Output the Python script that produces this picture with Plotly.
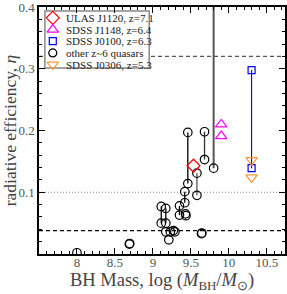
import plotly.graph_objects as go

# ---- data ----
ulas_x = [9.535]; ulas_y = [0.143]
j1148_x = [9.9, 9.9]; j1148_y = [0.210, 0.191]
j0100_x = [10.3, 10.3]; j0100_y = [0.298, 0.139]
j0306_x = [10.3, 10.3]; j0306_y = [0.152, 0.124]

# paired quasars (two estimates joined by a line)
pair_x = [9.46, 9.68, 9.58, 9.42, 9.35, 9.11, 9.17]
pair_hi = [0.197, 0.198, 0.131, 0.101, 0.078, 0.077, 0.074]
pair_lo = [0.114, 0.153, 0.095, 0.083, 0.063, 0.050, 0.050]
pair_col = ["black", "#333333", "#555555", "black", "black", "black", "black"]

# lower limit quasar (line to top)
lim_x = [9.8]; lim_y = [0.139]; lim_top = 0.4

single_x = [9.43, 9.435, 9.17, 9.21, 9.23, 9.27, 9.29, 9.64, 9.645, 8.0, 8.69, 8.695]
single_y = [0.065, 0.062, 0.036, 0.023, 0.036, 0.038, 0.036, 0.033, 0.034, 0.002, 0.016, 0.017]

hlines = [0.32, 0.1, 0.038]
hstyles = [("4px,3px", "#555555"), ("1px,2px", "#888888"), ("4px,3px", "black")]

x_range = [7.5, 10.74]
y_range = [0, 0.4001]
x_ticks = [8, 8.5, 9, 9.5, 10, 10.5]
x_ticklabels = ["8", "8.5", "9", "9.5", "10", "10.5"]
y_ticks = [0.1, 0.2, 0.3, 0.4]
y_ticklabels = ["0.1", "0.2", "0.3", "0.4"]

legend_labels = ["ULAS J1120, z=7.1", "SDSS J1148, z=6.4", "SDSS J0100, z=6.3",
                 "other z~6 quasars", "SDSS J0306, z=5.3"]
legend_symbols = ["diamond-open", "triangle-up-open", "square-open", "circle-open", "triangle-down-open"]
legend_colors = ["red", "magenta", "blue", "black", "#ff9933"]
legend_sizes = [10, 10, 7, 8, 10]

serif = "Liberation Serif, Times New Roman, serif"

fig = go.Figure()

for x, hi, lo, c in zip(pair_x, pair_hi, pair_lo, pair_col):
    fig.add_trace(go.Scatter(x=[x, x], y=[lo, hi], mode="lines",
                             line=dict(color=c, width=1.3), showlegend=False, hoverinfo="skip"))
fig.add_trace(go.Scatter(x=[lim_x[0], lim_x[0]], y=[lim_y[0], lim_top], mode="lines",
                         line=dict(color="#555555", width=2), showlegend=False, hoverinfo="skip"))
fig.add_trace(go.Scatter(x=j0100_x, y=j0100_y, mode="lines",
                         line=dict(color="blue", width=1.1), showlegend=False, hoverinfo="skip"))

circ = dict(symbol="circle", size=8.5, color="rgba(255,255,255,0)", line=dict(color="black", width=1.2))
fig.add_trace(go.Scatter(x=pair_x + pair_x + lim_x + single_x,
                         y=pair_hi + pair_lo + lim_y + single_y,
                         mode="markers", marker=circ, showlegend=False))

fig.add_trace(go.Scatter(x=ulas_x, y=ulas_y, mode="markers", showlegend=False,
                         marker=dict(symbol="diamond-open", size=10, color="red", line=dict(width=1.2))))
fig.add_trace(go.Scatter(x=j1148_x, y=j1148_y, mode="markers", showlegend=False,
                         marker=dict(symbol="triangle-up-open", size=10, color="magenta", line=dict(width=1.2))))
fig.add_trace(go.Scatter(x=j0100_x, y=j0100_y, mode="markers", showlegend=False,
                         marker=dict(symbol="square-open", size=7, color="blue", line=dict(width=1.2))))
fig.add_trace(go.Scatter(x=j0306_x, y=j0306_y, mode="markers", showlegend=False,
                         marker=dict(symbol="triangle-down-open", size=10, color="#ff9933", line=dict(width=1.2))))

for v, (d, c) in zip(hlines, hstyles):
    fig.add_shape(type="line", xref="paper", x0=0, x1=1, yref="y", y0=v, y1=v,
                  line=dict(color=c, width=1.2, dash=d), layer="below")

# ---- hand-built compact legend (overlay axes 0..1) ----
n = len(legend_labels)
leg_y = [0.956 - i * (0.956 - 0.767) / (n - 1) for i in range(n)]
leg_sym_x = 0.056
leg_txt_x = 0.100
fig.add_shape(type="rect", xref="paper", yref="paper", x0=0.024, x1=0.448, y0=0.753, y1=0.984,
              line=dict(color="#888888", width=1.5), fillcolor="white", layer="below")
for lab, sym, col, sz, yy in zip(legend_labels, legend_symbols, legend_colors, legend_sizes, leg_y):
    fig.add_trace(go.Scatter(x=[leg_sym_x], y=[yy], xaxis="x2", yaxis="y2", mode="markers",
                             showlegend=False, hoverinfo="skip",
                             marker=dict(symbol=sym, size=sz, color=col, line=dict(width=1.2))))
    fig.add_annotation(x=leg_txt_x, y=yy, xref="x2", yref="y2", text=lab, showarrow=False,
                       xanchor="left", yanchor="middle",
                       font=dict(family=serif, size=11, color="#1a1a1a"))

axis_common = dict(showline=True, linecolor="black", linewidth=1.5, mirror="ticks",
                   ticks="inside", ticklen=6, tickwidth=1, tickcolor="black",
                   showgrid=False, zeroline=False, ticklabeloverflow="allow",
                   tickfont=dict(family=serif, size=13, color="#555555"))

xaxis = dict(range=x_range, tickmode="array", tickvals=x_ticks, ticktext=x_ticklabels,
             ticklabelstandoff=-4,
             minor=dict(ticks="inside", ticklen=3, dtick=0.1, tick0=8, tickcolor="black", showgrid=False),
             title=dict(text="BH Mass, log (<i>M</i><sub>BH</sub>/<i>M</i><sub>⊙</sub>)",
                        font=dict(family=serif, size=18.5, color="#444444"), standoff=0),
             **axis_common)
yaxis = dict(range=y_range, tickmode="array", tickvals=y_ticks, ticktext=y_ticklabels,
             minor=dict(ticks="inside", ticklen=3, dtick=0.02, tick0=0, tickcolor="black", showgrid=False),
             title=dict(text="radiative efficiency, <i>η</i>",
                        font=dict(family=serif, size=17.5, color="#444444"), standoff=3),
             **axis_common)

fig.update_layout(
    width=287, height=294,
    margin=dict(l=39, r=0, t=7, b=40),
    plot_bgcolor="white", paper_bgcolor="white",
    font=dict(family=serif),
    showlegend=False,
    xaxis=xaxis, yaxis=yaxis,
    xaxis2=dict(overlaying="x", range=[0, 1], visible=False, fixedrange=True),
    yaxis2=dict(overlaying="y", range=[0, 1], visible=False, fixedrange=True),
)

fig.write_html("out.html", config={"displayModeBar": False},
               post_script="document.body.style.margin='0';")
